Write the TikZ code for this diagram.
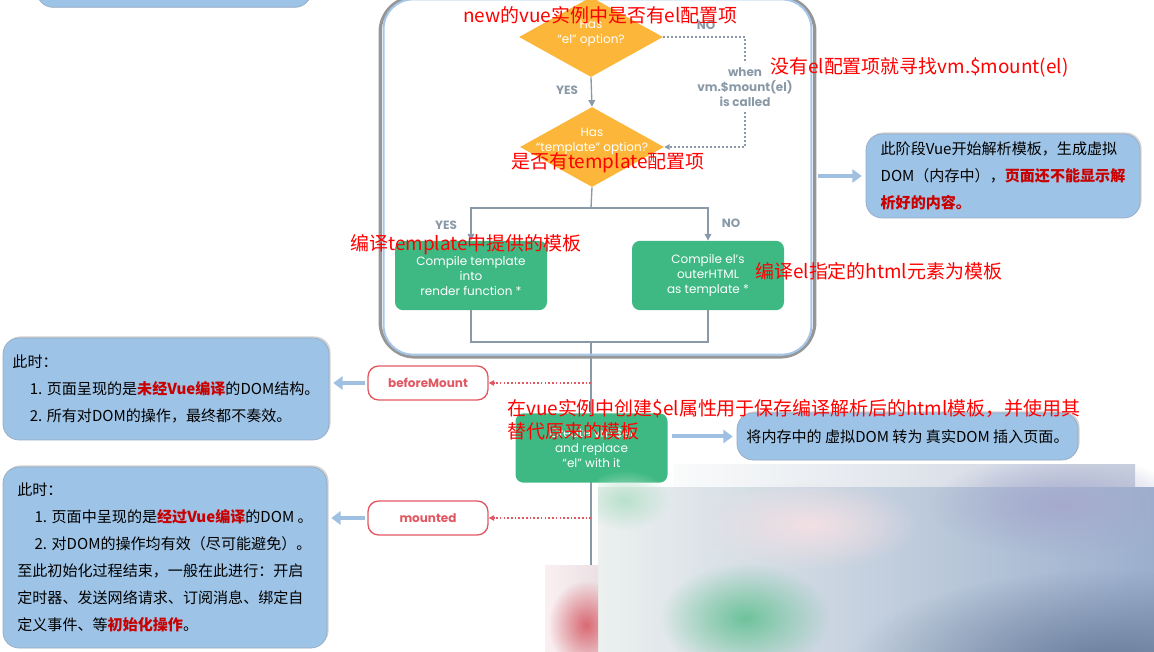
\documentclass[tikz,border=0pt]{standalone}
\usepackage{fontspec}
\setmainfont{Noto Sans CJK SC}
\newfontfamily\vuefont{Poppins}
\usetikzlibrary{positioning,shapes.geometric,arrows.meta,shadows,fadings,backgrounds}

\definecolor{vueorange}{RGB}{252,182,58}
\definecolor{vuegreen}{RGB}{62,185,131}
\definecolor{vuegray}{RGB}{138,153,168}
\definecolor{noteblue}{RGB}{157,195,230}
\definecolor{noteedge}{RGB}{150,170,195}
\definecolor{hookred}{RGB}{226,88,98}
\definecolor{markred}{RGB}{200,0,0}
\definecolor{annored}{RGB}{255,0,0}
\definecolor{framegray}{RGB}{150,150,150}
\definecolor{frameblue}{RGB}{165,198,232}
\definecolor{arrowblue}{RGB}{160,192,226}
\definecolor{blurwhite}{RGB}{250,251,251}
\definecolor{blurleft}{RGB}{236,240,239}
\definecolor{blurmid}{RGB}{226,226,232}
\definecolor{blurright}{RGB}{155,175,205}
\definecolor{blurtop}{RGB}{200,208,222}
\definecolor{blurmint}{RGB}{185,225,205}
\definecolor{blurpink}{RGB}{242,224,228}
\definecolor{blurviolet}{RGB}{165,170,205}
\definecolor{blurdark}{RGB}{105,125,155}
\definecolor{blurgreen}{RGB}{110,195,155}
\definecolor{blurrose}{RGB}{250,240,242}
\definecolor{blurrose2}{RGB}{235,225,228}
\definecolor{blurred}{RGB}{218,105,115}

\tikzfading[name=blobfade, inner color=transparent!0, outer color=transparent!100]

\begin{document}
\begin{tikzpicture}[x=0.75pt,y=0.75pt,yscale=-1,xscale=1,
  decision/.style={diamond, fill=vueorange, inner sep=0pt, minimum width=108pt, minimum height=60pt},
  vuetext/.style={text=white, font=\vuefont\fontsize{9}{11.25}\selectfont, align=center, inner sep=0pt},
  compilebox/.style={rectangle, rounded corners=6pt, fill=vuegreen, minimum width=114pt, minimum height=52pt, text=white, font=\vuefont\fontsize{9}{11.25}\selectfont, align=center},
  graylabel/.style={text=vuegray, font=\vuefont\bfseries\fontsize{9}{11.25}\selectfont, align=center},
  flowline/.style={draw=vuegray, line width=1pt},
  flowarrow/.style={flowline, -{Triangle[length=5pt,width=5pt]}},
  dotline/.style={draw=vuegray, line width=1.2pt, dash pattern=on 1.2pt off 1.8pt},
  hookbox/.style={rectangle, draw=hookred, line width=1pt, fill=white, rounded corners=8pt, minimum width=90pt, minimum height=25.5pt, text=hookred, font=\vuefont\bfseries\fontsize{9}{11}\selectfont},
  hookarrow/.style={draw=hookred, line width=0.9pt, dash pattern=on 1.2pt off 1.6pt, -{Triangle[length=4pt,width=4pt]}},
  notebox/.style={rectangle, rounded corners=12pt, fill=noteblue, draw=noteedge, line width=0.5pt, drop shadow={opacity=0.35, shadow xshift=1.2pt, shadow yshift=1.2pt}, font=\fontsize{11.3}{20.25}\selectfont, align=left},
  notearrow/.style={draw=arrowblue, line width=3pt, -{Triangle[length=7pt,width=10pt]}},
  anno/.style={text=annored, font=\fontsize{14.2}{17.25}\selectfont, inner sep=0pt, anchor=west, align=left}
]
\clip (0,0) rectangle (1154,652);

%Shape: Rounded Rect (top left, cut off)
\node[notebox, minimum width=205.5pt, minimum height=50pt] (noteInit) at (174,-26) {};

%Shape: Frame
\node[draw=framegray, line width=2.4pt, rounded corners=26pt, minimum width=326pt, minimum height=270pt] (lifeFrame) at (597.5,177) {};
\draw[draw=frameblue, line width=1.5pt, rounded corners=22pt] ([shift={(5,4)}]lifeFrame.north west) rectangle ([shift={(-5,-4)}]lifeFrame.south east);

%Shape: Diamond
\node[decision] (hasEl) at (591,37) {};
\node[vuetext] (hasElTxt) at (591,33) {Has\\“el” option?};
%Shape: Diamond
\node[decision] (hasTpl) at (592,147) {};
\node[vuetext] (hasTplTxt) at (592,141) {Has\\“template” option?};

%Shape: Rounded Rect
\node[compilebox] (compileTpl) at (471,275.5) {Compile template\\into\\render function *};
\node[compilebox] (compileEl) at (708,275.5) {Compile el’s\\outerHTML\\as template *};
\node[compilebox] (createEl) at (591.5,448) {Create vm.\$el\\and replace\\“el” with it};

%Shape: Rounded Rect (hooks)
\node[hookbox] (beforeMount) at (428,383) {beforeMount};
\node[hookbox] (mounted) at (428,518) {mounted};

%Shape: Rounded Rect (notes)
\node[notebox, minimum width=205.5pt, minimum height=63pt] (noteCompile) at (1003,176) {此阶段Vue开始解析模板，生成虚拟\\DOM（内存中），\textcolor{markred}{\bfseries 页面还不能显示解}\\\textcolor{markred}{\bfseries 析好的内容。}};
\node[notebox, minimum width=244.5pt, minimum height=76.5pt] (noteBefore) at (166,389) {此时：\\\hspace*{13pt}1. 页面呈现的是\textcolor{markred}{\bfseries 未经Vue编译}的DOM结构。\\\hspace*{13pt}2. 所有对DOM的操作，最终都不奏效。};
\node[notebox, minimum width=255.75pt, minimum height=35.25pt] (noteReplace) at (907.5,436.5) {将内存中的 虚拟DOM 转为 真实DOM 插入页面。};
\node[notebox, minimum width=243pt, minimum height=135.75pt] (noteMounted) at (165,557.5) {此时：\\\hspace*{13pt}1. 页面中呈现的是\textcolor{markred}{\bfseries 经过Vue编译}的DOM 。\\\hspace*{13pt}2. 对DOM的操作均有效（尽可能避免）。\\至此初始化过程结束，一般在此进行：开启\\定时器、发送网络请求、订阅消息、绑定自\\定义事件、等\textcolor{markred}{\bfseries 初始化操作}。};

% Text Node
\node[graylabel] (yesEl) at (567,90) {YES};
\node[graylabel] (noEl) at (706,25) {NO};
\node[graylabel] (yesTpl) at (446,225) {YES};
\node[graylabel] (noTpl) at (731,223) {NO};
\node[graylabel, inner sep=4pt] (whenLbl) at (745,87) {when\\vm.\$mount(el)\\is called};

%Straight Lines
\coordinate (split) at (591,208);
\coordinate (join) at (591,342);
\coordinate (lineEnd) at (591,652);
\coordinate (tapBefore) at (591,383);
\coordinate (tapMounted) at (591,518);
\draw[flowarrow] (hasEl.south) -- (hasTpl.north);
\draw[dotline] (hasEl.east) -- (whenLbl.north |- hasEl.east) -- (whenLbl.north);
\draw[dotline, -{Triangle[length=4pt,width=4pt]}] (whenLbl.south) -- (whenLbl.south |- hasTpl.east) -- (hasTpl.east);
\draw[flowline] (hasTpl.south) -- (split);
\draw[flowarrow] (split) -| (compileTpl.north);
\draw[flowarrow] (split) -| (compileEl.north);
\draw[flowline] (compileTpl.south) |- (join);
\draw[flowline] (compileEl.south) |- (join);
\begin{scope}[on background layer]
\draw[flowline] (join) -- (lineEnd);
\end{scope}
\draw[hookarrow] (tapBefore) -- (beforeMount.east);
\draw[hookarrow] (tapMounted) -- (mounted.east);
\draw[notearrow, shorten <=2pt, shorten >=3pt] (beforeMount.west) -- (beforeMount.west -| noteBefore.east);
\draw[notearrow, shorten <=2pt, shorten >=3pt] (mounted.west) -- (mounted.west -| noteMounted.east);
\draw[notearrow, shorten <=3pt, shorten >=3pt] (createEl.east |- noteReplace.west) -- (noteReplace.west);
\draw[notearrow, shorten <=1pt, shorten >=3pt] (lifeFrame.east |- noteCompile.west) -- (noteCompile.west);

% Text Node (red notes)
\node[anno] (annoHasEl) at (463,15) {new的vue实例中是否有el配置项};
\node[anno] (annoMount) at (770,67) {没有el配置项就寻找vm.\$mount(el)};
\node[anno] (annoHasTpl) at (511,163) {是否有template配置项};
\node[anno] (annoCompileTpl) at (350,245) {编译template中提供的模板};
\node[anno] (annoCompileEl) at (755,271) {编译el指定的html元素为模板};
\node[anno, anchor=north west] (annoCreateEl) at (507,399) {在vue实例中创建\$el属性用于保存编译解析后的html模板，并使用其\\替代原来的模板};

%Shape: blurred patch
\shade[left color=blurwhite, right color=blurtop] (673,464) rectangle (1135,487);
\shade[left color=blurleft, middle color=blurmid, right color=blurright] (598,487) rectangle (1154,652);
\begin{scope}
\clip (598,464) rectangle (1154,652);
\fill[blurmint, path fading=blobfade] (625,500) ellipse (45 and 30);
\fill[blurpink, path fading=blobfade] (810,525) ellipse (110 and 45);
\fill[blurviolet, path fading=blobfade] (1060,505) ellipse (130 and 50);
\fill[blurdark, path fading=blobfade] (1110,665) ellipse (260 and 95);
\fill[blurgreen, path fading=blobfade] (745,618) ellipse (85 and 55);
\end{scope}
\shade[left color=blurrose, right color=blurrose2] (545,565) rectangle (598,652);
\begin{scope}
\clip (545,565) rectangle (598,652);
\fill[blurred, path fading=blobfade] (586,625) ellipse (38 and 45);
\end{scope}
\end{tikzpicture}
\end{document}
